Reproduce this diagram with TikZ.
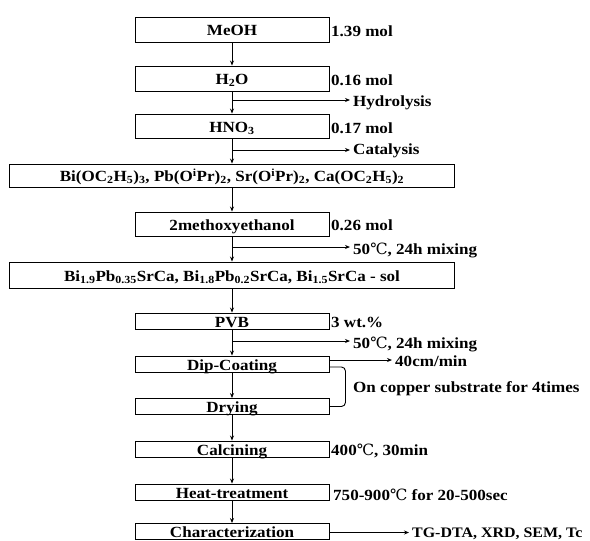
\documentclass[tikz,border=0pt]{standalone}
\usepackage{fontspec}
\setmainfont[FakeStretch=1.10]{Liberation Serif}
\newfontfamily\degfont{DejaVu Serif}
\usetikzlibrary{arrows.meta}
\newcommand{\dC}{{\degfont\mdseries ℃}}

\begin{document}
\begin{tikzpicture}[x=1pt,y=-1pt,
    box/.style={draw,line width=0.9pt,minimum width=194pt,inner sep=0pt,text height=12pt,text depth=0pt,font=\fontsize{15.5}{17}\selectfont\bfseries},
    wide/.style={box,minimum width=445pt},
    note/.style={anchor=base west,inner sep=0pt,font=\fontsize{15.5}{17}\selectfont\bfseries},
    arr/.style={line width=0.9pt,-{Stealth[length=5pt,width=4pt]}},
    lnk/.style={line width=0.9pt}]
  \useasboundingbox (0,0) rectangle (590,541);
  \fill[white] (0,0) rectangle (590,541);
  \begin{scope}
  \clip (0,0) rectangle (590,541);
  % main column
  \node[box,minimum height=25pt] (meoh) at (232,29.5) {MeOH};
  \node[box,minimum height=25pt] (water) at (232,78.5) {H\textsubscript{2}O};
  \node[box,minimum height=24pt] (acid) at (232,126) {HNO\textsubscript{3}};
  \node[wide,minimum height=23pt] (alkox) at (232,175.5) {Bi(OC\textsubscript{2}H\textsubscript{5})\textsubscript{3}, Pb(O\textsuperscript{i}Pr)\textsubscript{2}, Sr(O\textsuperscript{i}Pr)\textsubscript{2}, Ca(OC\textsubscript{2}H\textsubscript{5})\textsubscript{2}};
  \node[box,minimum height=24pt] (moe) at (232,224) {2methoxyethanol};
  \node[wide,minimum height=26pt] (sol) at (232,275) {Bi\textsubscript{1.9}Pb\textsubscript{0.35}SrCa, Bi\textsubscript{1.8}Pb\textsubscript{0.2}SrCa, Bi\textsubscript{1.5}SrCa - sol};
  \foreach \nm/\yy/\txt in {pvb/321/PVB, dip/364/Dip-Coating, dry/406.5/Drying, calc/449/Calcining, heat/492/Heat-treatment, char/531.5/Characterization}
    \node[box,minimum height=16pt] (\nm) at (232,\yy) {\txt};
  \foreach \a/\b in {meoh/water, water/acid, acid/alkox, alkox/moe, moe/sol, sol/pvb, pvb/dip, dip/dry, dry/calc, calc/heat, heat/char}
    \draw[arr] (\a) -- (\b);
  % amounts and conditions
  \node[note] (n1) at (331,36) {1.39 mol};
  \node[note] (n2) at (331,85) {0.16 mol};
  \node[note] (n3) at (331,133) {0.17 mol};
  \node[note] (n4) at (331,230) {0.26 mol};
  \node[note] (n5) at (331,327) {3 wt.\%};
  \node[note] (n6) at (331,455) {400\dC, 30min};
  \node[note] (n7) at (333,500) {750-900\dC{} for 20-500sec};
  % side branches
  \foreach \nm/\yy/\bl/\txt in {hyd/100/106/Hydrolysis, cat/150/154/Catalysis, mixa/247/254/{50\dC, 24h mixing}, mixb/341/348/{50\dC, 24h mixing}}{
    \coordinate (\nm-t) at (232,\yy);
    \node[note] (\nm) at (353,\bl) {\txt};
    \draw[arr,shorten >=3pt] (\nm-t) -- (\nm-t -| \nm.west);
  }
  \node[note] (speed) at (395,366) {40cm/min};
  \draw[arr,shorten >=3pt] ([yshift=4pt]dip.east) -- ([yshift=4pt]dip.east -| speed.west);
  \draw[lnk,rounded corners=4pt] ([yshift=-3pt]dip.east) -| ([xshift=16pt]dry.east) -- (dry.east);
  \node[note] (rep) at (353,392) {On copper substrate for 4times};
  \node[note,font=\fontsize{14.5}{17}\selectfont\bfseries] (meas) at (412,537) {TG-DTA, XRD, SEM, Tc};
  \draw[arr,shorten >=3pt] ([yshift=-1pt]char.east) -- ([yshift=-1pt]char.east -| meas.west);
  \end{scope}
\end{tikzpicture}
\end{document}
